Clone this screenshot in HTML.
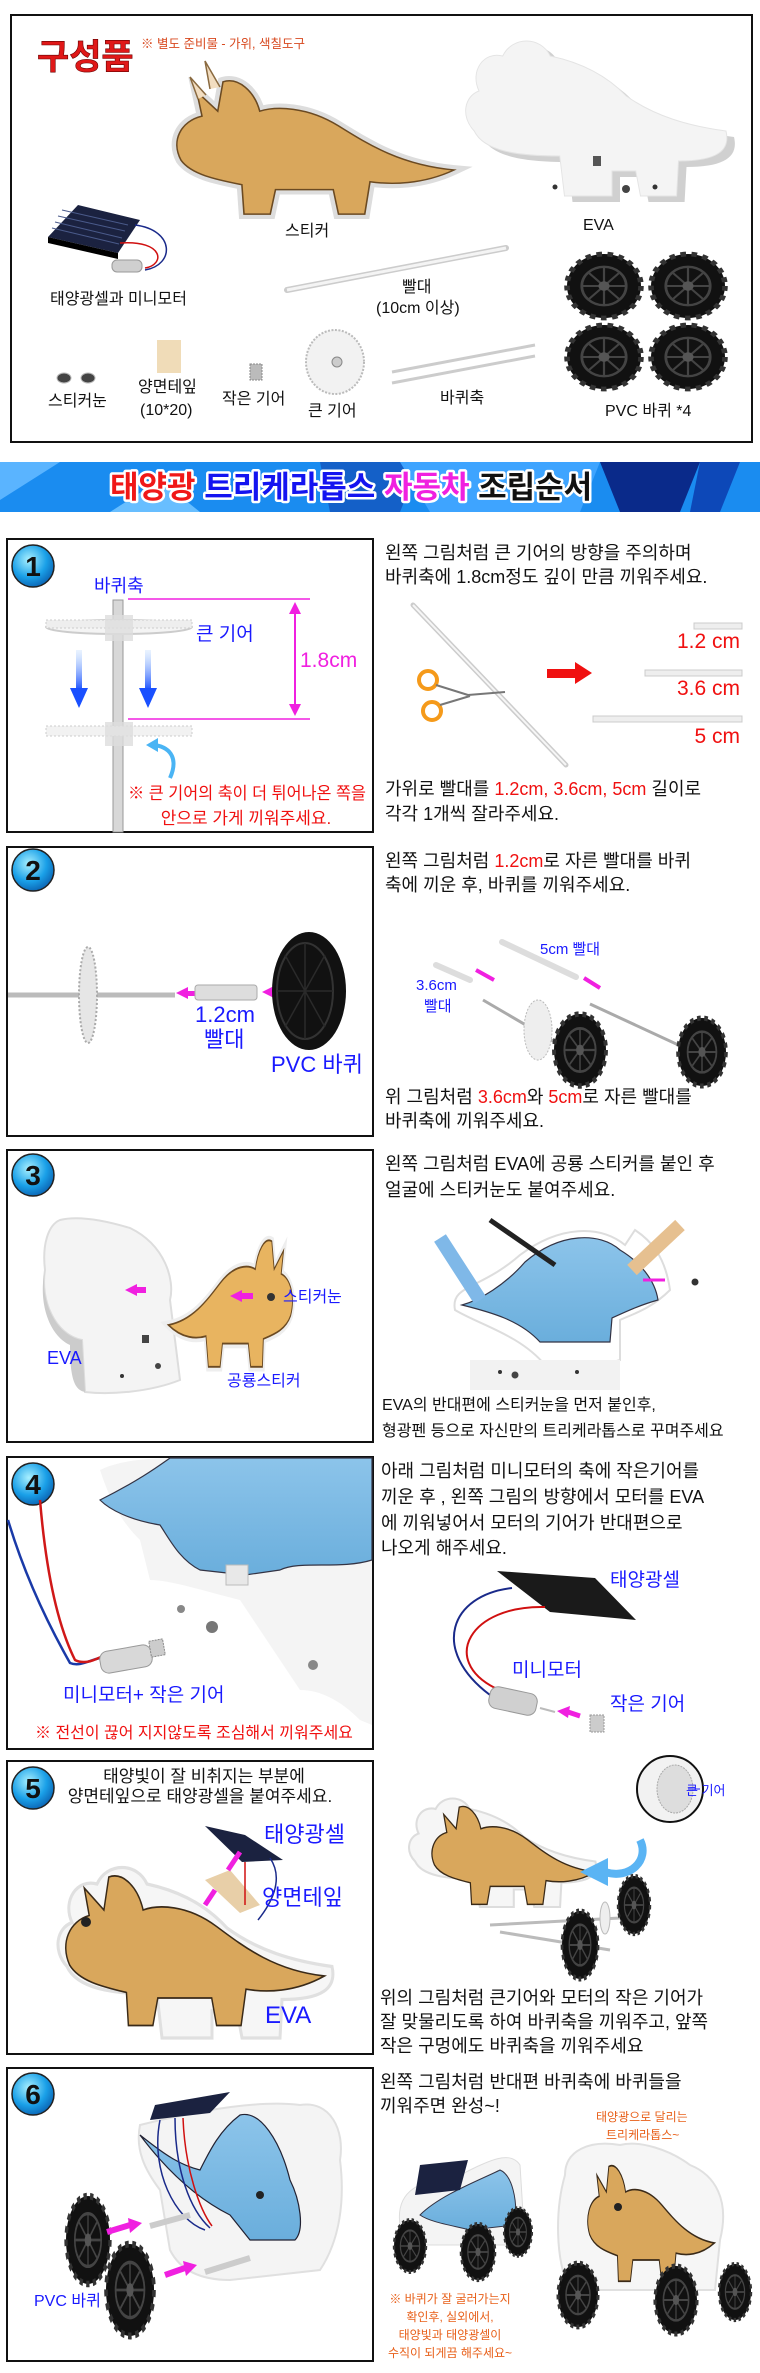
<!DOCTYPE html>
<html><head><meta charset="utf-8">
<style>
html,body{margin:0;padding:0;background:#fff;}
svg{display:block;}
text{font-family:"Liberation Sans","Noto Sans CJK KR",sans-serif;}
.t{font-size:18px;fill:#111;}
.s{font-size:16px;fill:#111;}
.b{fill:#1a1aff;}
.r{fill:#f01010;}
.m{fill:#f020e0;}
.o{fill:#e8601a;}
</style></head>
<body>
<svg width="760" height="2373" viewBox="0 0 760 2373" xmlns="http://www.w3.org/2000/svg">
<defs>
  <path id="dino" d="M20,90 C10,70 20,50 40,45 L35,20 L55,40 L60,10 C75,5 90,20 95,40 C110,35 140,35 170,55 C200,75 230,95 280,100 C250,115 220,115 200,112 L195,145 L170,145 L165,120 L110,120 L105,145 L80,145 L78,115 C55,110 30,105 20,90 Z"/>
  <path id="eva" d="M15,95 C0,80 5,60 20,55 C10,35 25,15 45,20 C55,0 85,0 95,20 C120,25 150,35 175,60 C205,80 240,90 280,95 C285,115 270,125 230,125 L228,160 L190,160 L185,135 L160,135 L160,160 L110,160 L105,120 C60,120 25,115 15,95 Z"/>
  <g id="wheel">
    <circle r="20" fill="#111"/>
    <circle r="20" fill="none" stroke="#333" stroke-width="3" stroke-dasharray="3 3"/>
    <circle r="12" fill="none" stroke="#444" stroke-width="1.5"/>
    <path d="M-12,0H12M0,-12V12M-8,-8L8,8M-8,8L8,-8" stroke="#444" stroke-width="1.2"/>
    <circle r="3" fill="#555"/>
  </g>
  <radialGradient id="num" cx="40%" cy="35%" r="70%">
    <stop offset="0" stop-color="#a8f0ff"/><stop offset="0.6" stop-color="#1aa0e8"/><stop offset="1" stop-color="#0a60b0"/>
  </radialGradient>
  <linearGradient id="barrow" x1="0" y1="0" x2="0" y2="1">
    <stop offset="0" stop-color="#b8d8ff" stop-opacity="0.3"/><stop offset="1" stop-color="#1a50ff"/>
  </linearGradient>
  <linearGradient id="dblue" x1="0" y1="0" x2="0" y2="1">
    <stop offset="0" stop-color="#8cc4ea"/><stop offset="1" stop-color="#6aaedc"/>
  </linearGradient>
</defs>

<!-- ===== Components box ===== -->
<rect x="11" y="15" width="741" height="427" fill="#fff" stroke="#111" stroke-width="2"/>
<text x="37" y="69" font-size="35" font-weight="bold" fill="#e01818" stroke="#600" stroke-width="0.6">구성품</text>
<text x="141" y="48" font-size="12.5" fill="#d84a20">※ 별도 준비물 - 가위, 색칠도구</text>

<use href="#dino" transform="translate(160,72) scale(1.05,0.98)" fill="#fff" stroke="#ddd" stroke-width="10"/>
<use href="#dino" transform="translate(160,72) scale(1.05,0.98)" fill="#d9a75c" stroke="#6b4a22" stroke-width="1.5"/>
<path d="M198,99 L190,77 L206,95 M210,89 L205,61 L220,87" stroke="#8a6a40" fill="#f2ddc0" stroke-width="1.5"/>
<text x="285" y="236" class="s">스티커</text>
<use href="#eva" transform="translate(468,42) scale(0.95,1.0)" fill="#d0d0d0"/>
<use href="#eva" transform="translate(460,36) scale(0.95,1.0)" fill="#f4f4f4" stroke="#e4e4e4"/>
<circle cx="555" cy="187" r="2.5" fill="#333"/><circle cx="626" cy="189" r="4" fill="#444"/><circle cx="655" cy="187" r="2.5" fill="#333"/>
<rect x="593" y="156" width="8" height="10" fill="#555"/>
<text x="583" y="230" class="s">EVA</text>
<polygon points="78,205 140,220 118,253 48,237" fill="#1b2240"/>
<polygon points="48,237 118,253 118,259 48,243" fill="#000"/>
<path d="M62,210 L128,225 M58,216 L125,231 M55,222 L122,238 M52,228 L119,244" stroke="#4a5a8a" stroke-width="1"/>
<path d="M135,225 C175,230 175,265 145,270" stroke="#1a2a8a" stroke-width="1.5" fill="none"/>
<path d="M120,243 C165,240 165,265 145,268" stroke="#d01010" stroke-width="1.5" fill="none"/>
<rect x="112" y="260" width="30" height="12" rx="5" fill="#cfcfcf" stroke="#999"/>
<text x="50" y="304" class="s">태양광셀과 미니모터</text>
<path d="M287,290 L506,248" stroke="#ccc" stroke-width="6" stroke-linecap="round"/>
<path d="M287,290 L506,248" stroke="#f4f4f4" stroke-width="3"/>
<text x="402" y="292" class="s">빨대</text>
<text x="376" y="313" class="s">(10cm 이상)</text>
<use href="#wheel" transform="translate(604,286) scale(1.85,1.6)"/>
<use href="#wheel" transform="translate(688,286) scale(1.85,1.6)"/>
<use href="#wheel" transform="translate(604,357) scale(1.85,1.6)"/>
<use href="#wheel" transform="translate(688,357) scale(1.85,1.6)"/>
<text x="605" y="416" class="s">PVC 바퀴 *4</text>
<ellipse cx="64" cy="378" rx="7" ry="5" fill="#444" stroke="#bbb"/><ellipse cx="88" cy="378" rx="7" ry="5" fill="#444" stroke="#bbb"/>
<text x="48" y="406" class="s">스티커눈</text>
<rect x="157" y="340" width="24" height="33" fill="#f0dcb8"/>
<text x="138" y="392" class="s">양면테잎</text>
<text x="140" y="415" class="s">(10*20)</text>
<rect x="250" y="364" width="12" height="16" fill="#bbb" stroke="#888" stroke-dasharray="2 1"/>
<text x="222" y="404" class="s">작은 기어</text>
<ellipse cx="335" cy="362" rx="29" ry="32" fill="#f2f2f2" stroke="#bbb" stroke-width="2" stroke-dasharray="2 1.5"/>
<circle cx="337" cy="362" r="5" fill="#ccc" stroke="#888"/>
<text x="308" y="416" class="s">큰 기어</text>
<path d="M392,372 L535,345 M392,383 L535,356" stroke="#ccc" stroke-width="3"/>
<text x="440" y="403" class="s">바퀴축</text>

<!-- ===== Banner ===== -->
<rect x="0" y="462" width="760" height="50" fill="#1a8cf0"/>
<polygon points="0,462 60,462 0,500" fill="#5ab4ff"/>
<polygon points="320,462 420,462 400,512 330,512" fill="#1460c8"/>
<polygon points="400,462 600,462 580,512 430,512" fill="#3ea4ff"/>
<polygon points="600,462 700,462 680,512 620,512" fill="#0a2a8a"/>
<polygon points="700,462 740,462 720,512 690,512" fill="#0d48b8"/>
<polygon points="110,512 160,480 200,512" fill="#68beff"/>
<g font-size="31" font-weight="bold" stroke="#fff" stroke-width="5" paint-order="stroke" stroke-linejoin="round">
<text x="110" y="498"><tspan fill="#f01818">태양광</tspan> <tspan fill="#1414f0">트리케라톱스</tspan> <tspan fill="#f020e0">자동차</tspan> <tspan fill="#111">조립순서</tspan></text>
</g>

<!-- ===== Step boxes ===== -->
<g fill="#fff" stroke="#111" stroke-width="2">
<rect x="7" y="539" width="366" height="293"/>
<rect x="7" y="847" width="366" height="289"/>
<rect x="7" y="1150" width="366" height="292"/>
<rect x="7" y="1457" width="366" height="292"/>
<rect x="7" y="1761" width="366" height="293"/>
<rect x="7" y="2068" width="366" height="293"/>
</g>
<g font-size="28" font-weight="bold" text-anchor="middle" fill="#111">
<circle cx="33" cy="566" r="21" fill="url(#num)" stroke="#222" stroke-width="1.5"/><text x="33" y="576">1</text>
<circle cx="33" cy="870" r="21" fill="url(#num)" stroke="#222" stroke-width="1.5"/><text x="33" y="880">2</text>
<circle cx="33" cy="1175" r="21" fill="url(#num)" stroke="#222" stroke-width="1.5"/><text x="33" y="1185">3</text>
<circle cx="33" cy="1484" r="21" fill="url(#num)" stroke="#222" stroke-width="1.5"/><text x="33" y="1494">4</text>
<circle cx="33" cy="1788" r="21" fill="url(#num)" stroke="#222" stroke-width="1.5"/><text x="33" y="1798">5</text>
<circle cx="33" cy="2094" r="21" fill="url(#num)" stroke="#222" stroke-width="1.5"/><text x="33" y="2104">6</text>
</g>

<!-- Step 1 -->
<text x="94" y="592" font-size="18" class="b">바퀴축</text>
<rect x="113" y="600" width="10" height="232" fill="#d8d8d8" stroke="#999"/>
<ellipse cx="119" cy="627" rx="73" ry="7" fill="#f4f4f4" stroke="#ccc" stroke-width="2"/>
<rect x="46" y="620" width="146" height="8" fill="#eee" stroke="#ccc" stroke-dasharray="2 2"/>
<rect x="105" y="615" width="28" height="26" fill="#ddd" opacity="0.8"/>
<text x="196" y="640" font-size="19" class="b">큰 기어</text>
<path d="M128,599 H310 M128,719 H310" stroke="#f020e0" stroke-width="1.5"/>
<path d="M295,605 V713" stroke="#f020e0" stroke-width="2"/>
<polygon points="295,602 289,614 301,614" fill="#f020e0"/><polygon points="295,716 289,704 301,704" fill="#f020e0"/>
<text x="300" y="667" font-size="21" class="m">1.8cm</text>
<rect x="76" y="650" width="6" height="40" fill="url(#barrow)"/><polygon points="70,688 88,688 79,708" fill="#1a50ff"/>
<rect x="145" y="650" width="6" height="40" fill="url(#barrow)"/><polygon points="139,688 157,688 148,708" fill="#1a50ff"/>
<rect x="46" y="726" width="146" height="10" fill="#f2f2f2" stroke="#ccc" stroke-dasharray="2 2"/>
<rect x="105" y="722" width="28" height="24" fill="#ddd" opacity="0.8"/>
<path d="M170,778 C178,760 172,748 155,745" stroke="#4ab4f4" stroke-width="4" fill="none"/>
<polygon points="146,745 158,738 158,752" fill="#4ab4f4"/>
<text x="128" y="799" font-size="17" class="r" textLength="238" lengthAdjust="spacingAndGlyphs">※ 큰 기어의 축이 더 튀어나온 쪽을</text>
<text x="246" y="824" font-size="17" class="r" text-anchor="middle">안으로 가게 끼워주세요.</text>

<text x="385" y="559" class="t">왼쪽 그림처럼 큰 기어의 방향을 주의하며</text>
<text x="385" y="583" class="t">바퀴축에 1.8cm정도 깊이 만큼 끼워주세요.</text>
<path d="M413,605 L566,765" stroke="#ccc" stroke-width="5" stroke-linecap="round"/>
<path d="M413,605 L566,765" stroke="#f6f6f6" stroke-width="2"/>
<circle cx="428" cy="680" r="9" fill="none" stroke="#f59a1a" stroke-width="4"/>
<circle cx="432" cy="711" r="9" fill="none" stroke="#f59a1a" stroke-width="4"/>
<path d="M436,685 L468,695 M440,705 L470,696 M468,695 L505,692" stroke="#777" stroke-width="2"/>
<rect x="547" y="669" width="30" height="9" fill="#f01010"/><polygon points="575,662 592,673 575,684" fill="#f01010"/>
<rect x="694" y="623" width="48" height="6" fill="#eee" stroke="#ccc"/>
<rect x="645" y="670" width="97" height="6" fill="#eee" stroke="#ccc"/>
<rect x="593" y="716" width="149" height="6" fill="#eee" stroke="#ccc"/>
<g font-size="21" class="r" text-anchor="end"><text x="740" y="648">1.2 cm</text><text x="740" y="695">3.6 cm</text><text x="740" y="743">5 cm</text></g>
<text x="385" y="795" class="t">가위로 빨대를 <tspan class="r">1.2cm, 3.6cm, 5cm</tspan> 길이로</text>
<text x="385" y="820" class="t">각각 1개씩 잘라주세요.</text>

<!-- Step 2 -->
<path d="M8,995 H175" stroke="#bbb" stroke-width="5"/>
<ellipse cx="88" cy="995" rx="9" ry="48" fill="#e6e6e6" stroke="#aaa" stroke-width="2" stroke-dasharray="2 2"/>
<polygon points="176,993 188,987 188,999" fill="#f020e0"/><rect x="187" y="991" width="8" height="5" fill="#f020e0"/>
<rect x="195" y="985" width="62" height="15" rx="3" fill="#ddd" stroke="#aaa"/>
<polygon points="262,992 274,986 274,998" fill="#f020e0"/><rect x="273" y="989" width="14" height="6" fill="#f020e0"/>
<ellipse cx="309" cy="991" rx="37" ry="59" fill="#111"/>
<ellipse cx="305" cy="991" rx="28" ry="48" fill="none" stroke="#333" stroke-width="2"/>
<path d="M305,943 V1039 M277,991 H333 M285,955 L325,1027 M285,1027 L325,955" stroke="#2a2a2a" stroke-width="1.5"/>
<text x="195" y="1022" font-size="22" class="b">1.2cm</text>
<text x="204" y="1047" font-size="22" class="b">빨대</text>
<text x="271" y="1072" font-size="22" class="b">PVC 바퀴</text>

<text x="385" y="867" class="t">왼쪽 그림처럼 <tspan class="r">1.2cm</tspan>로 자른 빨대를 바퀴</text>
<text x="385" y="891" class="t">축에 끼운 후, 바퀴를 끼워주세요.</text>
<text x="540" y="954" font-size="15" class="b">5cm 빨대</text>
<text x="416" y="990" font-size="15" class="b">3.6cm</text>
<text x="424" y="1011" font-size="15" class="b">빨대</text>
<path d="M436,965 L470,980 M502,942 L576,977" stroke="#ddd" stroke-width="6" stroke-linecap="round"/>
<path d="M483,1000 L560,1045 M590,1004 L700,1055" stroke="#aaa" stroke-width="3"/>
<path d="M476,970 L494,980 M584,978 L600,988" stroke="#f020e0" stroke-width="4"/>
<ellipse cx="538" cy="1030" rx="14" ry="30" fill="#eee" stroke="#bbb" stroke-dasharray="2 1.5"/>
<use href="#wheel" transform="translate(580,1050) scale(1.3,1.8)"/>
<use href="#wheel" transform="translate(702,1052) scale(1.2,1.7)"/>
<text x="385" y="1103" class="t">위 그림처럼 <tspan class="r">3.6cm</tspan>와 <tspan class="r">5cm</tspan>로 자른 빨대를</text>
<text x="385" y="1127" class="t">바퀴축에 끼워주세요.</text>

<!-- Step 3 -->
<path d="M60,1220 C80,1215 110,1222 130,1228 C165,1245 175,1280 170,1300 L180,1380 C150,1392 110,1395 85,1392 L82,1340 C55,1335 40,1300 45,1270 C42,1245 48,1225 60,1220 Z" fill="#f4f4f4" stroke="#ddd" stroke-width="2"/>
<path d="M45,1270 C40,1300 55,1335 82,1340 L85,1392 C75,1390 70,1380 70,1345 C48,1335 38,1300 45,1270 Z" fill="#ccc"/>
<rect x="142" y="1335" width="7" height="8" fill="#444"/>
<circle cx="122" cy="1376" r="2" fill="#333"/><circle cx="158" cy="1366" r="3" fill="#444"/>
<polygon points="125,1290 137,1284 137,1296" fill="#f020e0"/><rect x="136" y="1287" width="10" height="6" fill="#f020e0"/>
<use href="#dino" transform="translate(300,1232) scale(-0.47,0.93)" fill="#fff" stroke="#eee" stroke-width="10"/>
<use href="#dino" transform="translate(300,1232) scale(-0.47,0.93)" fill="#e8b460" stroke="#6b4a22" stroke-width="2"/>
<polygon points="230,1296 242,1290 242,1302" fill="#f020e0"/><rect x="241" y="1293" width="12" height="6" fill="#f020e0"/>
<circle cx="271" cy="1297" r="4" fill="#333"/>
<text x="283" y="1302" font-size="16" class="b">스티커눈</text>
<text x="47" y="1364" font-size="18" class="b">EVA</text>
<text x="227" y="1386" font-size="16" class="b">공룡스티커</text>

<text x="385" y="1170" class="t">왼쪽 그림처럼 EVA에 공룡 스티커를 붙인 후</text>
<text x="385" y="1196" class="t">얼굴에 스티커눈도 붙여주세요.</text>
<path d="M455,1310 C450,1285 480,1290 520,1255 C560,1225 600,1225 625,1245 L635,1230 C650,1240 665,1255 670,1290 C650,1310 630,1315 620,1320 L620,1360 C590,1370 560,1372 545,1365 C520,1335 480,1325 455,1310 Z" fill="#fff" stroke="#ddd" stroke-width="2"/>
<path d="M462,1305 C480,1300 505,1285 525,1262 C560,1232 600,1232 620,1250 C640,1262 655,1280 658,1300 C640,1305 625,1312 612,1318 L610,1342 L540,1342 C520,1320 490,1312 462,1305 Z" fill="url(#dblue)" stroke="#334" stroke-width="1.2"/>
<path d="M470,1360 H620 V1390 H470 Z" fill="#f2f2f2"/>
<circle cx="500" cy="1372" r="2" fill="#333"/><circle cx="515" cy="1375" r="3.5" fill="#444"/><circle cx="577" cy="1372" r="2" fill="#333"/>
<path d="M490,1220 L555,1265" stroke="#222" stroke-width="5"/>
<path d="M440,1238 L480,1300" stroke="#7fb8e8" stroke-width="14"/>
<path d="M632,1270 L680,1225" stroke="#e6c090" stroke-width="14"/>
<path d="M643,1280 H665" stroke="#f020e0" stroke-width="3"/>
<circle cx="695" cy="1282" r="3.5" fill="#333"/>
<text x="382" y="1410" class="s">EVA의 반대편에 스티커눈을 먼저 붙인후,</text>
<text x="382" y="1436" class="s">형광펜 등으로 자신만의 트리케라톱스로 꾸며주세요</text>

<!-- Step 4 -->
<path d="M100,1470 C120,1460 150,1458 180,1458 L372,1458 L372,1725 L360,1720 C340,1700 320,1690 300,1690 L240,1600 C200,1590 170,1580 150,1580 L140,1540 C120,1520 110,1500 100,1470 Z" fill="#f4f4f4"/>
<path d="M100,1500 C140,1480 160,1465 170,1458 L372,1458 L372,1560 C340,1570 300,1560 280,1570 L245,1575 L200,1570 C180,1560 170,1540 160,1525 C130,1520 110,1510 100,1500 Z" fill="url(#dblue)" stroke="#334" stroke-width="1.2"/>
<rect x="226" y="1565" width="22" height="20" fill="#e8e8e8" stroke="#bbb"/>
<circle cx="181" cy="1609" r="4" fill="#888"/><circle cx="212" cy="1627" r="6" fill="#777"/><circle cx="313" cy="1665" r="5" fill="#888"/>
<path d="M8,1520 C20,1560 40,1610 70,1663 C80,1667 90,1660 100,1658" stroke="#1a3aa8" stroke-width="2.5" fill="none"/>
<path d="M40,1500 C45,1560 55,1620 75,1660 C85,1665 95,1660 105,1655" stroke="#d01818" stroke-width="2.5" fill="none"/>
<rect x="100" y="1648" width="52" height="22" rx="8" fill="#d8d8d8" stroke="#999" transform="rotate(-10 126 1659)"/>
<rect x="150" y="1640" width="14" height="16" fill="#ccc" stroke="#888" stroke-dasharray="2 1" transform="rotate(-10 157 1648)"/>
<text x="63" y="1701" font-size="19" class="b">미니모터+ 작은 기어</text>
<text x="35" y="1738" font-size="16" class="r">※ 전선이 끊어 지지않도록 조심해서 끼워주세요</text>

<text x="381" y="1477" class="t">아래 그림처럼 미니모터의 축에 작은기어를</text>
<text x="381" y="1503" class="t">끼운 후 , 왼쪽 그림의 방향에서 모터를 EVA</text>
<text x="381" y="1529" class="t">에 끼워넣어서 모터의 기어가 반대편으로</text>
<text x="381" y="1554" class="t">나오게 해주세요.</text>
<polygon points="497,1571 595,1578 636,1620 550,1612" fill="#1a1a1a"/>
<path d="M512,1588 C450,1595 430,1650 490,1695" stroke="#1a2a8a" stroke-width="2" fill="none"/>
<path d="M545,1607 C470,1605 440,1660 495,1688" stroke="#d01010" stroke-width="2" fill="none"/>
<rect x="489" y="1690" width="48" height="22" rx="8" fill="#d0d0d0" stroke="#999" transform="rotate(12 513 1701)"/>
<path d="M540,1708 L555,1712" stroke="#bbb" stroke-width="2"/>
<polygon points="557,1711 570,1706 568,1718" fill="#f020e0"/><path d="M568,1712 L580,1716" stroke="#f020e0" stroke-width="5"/>
<rect x="590" y="1715" width="14" height="17" fill="#ccc" stroke="#999" stroke-dasharray="2 1"/>
<text x="610" y="1586" font-size="19" class="b">태양광셀</text>
<text x="512" y="1676" font-size="19" class="b">미니모터</text>
<text x="610" y="1710" font-size="19" class="b">작은 기어</text>

<!-- Step 5 -->
<text x="204" y="1782" font-size="17" fill="#111" text-anchor="middle">태양빛이 잘 비취지는 부분에</text>
<text x="200" y="1802" font-size="17" fill="#111" text-anchor="middle">양면테잎으로 태양광셀을 붙여주세요.</text>
<use href="#eva" transform="translate(52,1862) scale(1.0,1.1)" fill="#f6f6f6" stroke="#e0e0e0" stroke-width="3"/>
<use href="#dino" transform="translate(50,1866) scale(0.98,1.1)" fill="#d9a75c" stroke="#3a2a18" stroke-width="1.5"/>
<circle cx="86" cy="1922" r="5" fill="#222"/>
<polygon points="205,1826 245,1835 283,1860 242,1862" fill="#1b2240"/>
<polygon points="205,1880 230,1870 260,1905 240,1913" fill="#e8cfa8"/>
<path d="M270,1858 C285,1880 270,1905 258,1920" stroke="#1a2a8a" stroke-width="1.5" fill="none"/>
<path d="M245,1862 V1905" stroke="#d01010" stroke-width="1.5"/>
<path d="M240,1852 L228,1870 M215,1890 L205,1905" stroke="#f020e0" stroke-width="5"/>
<text x="264" y="1842" font-size="22" class="b">태양광셀</text>
<text x="262" y="1905" font-size="22" class="b">양면테잎</text>
<text x="265" y="2023" font-size="24" class="b">EVA</text>

<use href="#eva" transform="translate(405,1795) scale(0.68,0.7)" fill="#f6f6f6" stroke="#ddd" stroke-width="3"/>
<use href="#dino" transform="translate(422,1800) scale(0.62,0.72)" fill="#d9a75c" stroke="#3a2a18" stroke-width="2"/>
<circle cx="670" cy="1789" r="33" fill="#f2f2f2" stroke="#111" stroke-width="2"/>
<ellipse cx="675" cy="1789" rx="18" ry="24" fill="#ddd" stroke="#aaa" stroke-dasharray="2 1"/>
<path d="M688,1789 H700" stroke="#1a1aff"/>
<text x="686" y="1795" font-size="13" class="b">큰 기어</text>
<path d="M640,1840 C650,1860 630,1880 605,1872" stroke="#5ab4f4" stroke-width="8" fill="none"/>
<polygon points="580,1872 608,1858 608,1886" fill="#5ab4f4"/>
<path d="M490,1925 L620,1918 M500,1932 L610,1950" stroke="#bbb" stroke-width="3"/>
<use href="#wheel" transform="translate(580,1945) scale(0.9,1.7)"/>
<use href="#wheel" transform="translate(634,1905) scale(0.8,1.45)"/>
<ellipse cx="605" cy="1918" rx="5" ry="16" fill="#eee" stroke="#bbb"/>
<text x="380" y="2004" class="t">위의 그림처럼 큰기어와 모터의 작은 기어가</text>
<text x="380" y="2028" class="t">잘 맞물리도록 하여 바퀴축을 끼워주고, 앞쪽</text>
<text x="380" y="2052" class="t">작은 구멍에도 바퀴축을 끼워주세요</text>

<!-- Step 6 -->
<path d="M140,2125 C200,2110 260,2100 300,2105 C330,2100 345,2130 340,2160 C345,2200 340,2240 320,2270 L230,2280 C200,2280 180,2270 170,2250 L160,2190 C145,2170 135,2150 140,2125 Z" fill="#f4f4f4" stroke="#e0e0e0" stroke-width="2"/>
<path d="M140,2135 C165,2155 180,2165 200,2170 C210,2150 220,2130 240,2115 C260,2110 280,2140 290,2180 C300,2200 305,2230 295,2240 L250,2240 L230,2215 C200,2200 170,2175 140,2135 Z" fill="url(#dblue)" stroke="#223" stroke-width="1.2"/>
<polygon points="155,2105 230,2092 210,2113 150,2120" fill="#1b2240"/>
<path d="M160,2120 C150,2170 175,2220 205,2230 M175,2118 C175,2170 190,2210 210,2228" stroke="#1a2a8a" stroke-width="1.5" fill="none"/>
<path d="M183,2118 C185,2170 200,2210 212,2226" stroke="#d01010" stroke-width="1.5" fill="none"/>
<circle cx="260" cy="2195" r="4" fill="#222"/>
<path d="M150,2226 L190,2215 M205,2272 L250,2258" stroke="#ccc" stroke-width="6"/>
<use href="#wheel" transform="translate(88,2240) scale(1.1,2.2)"/>
<use href="#wheel" transform="translate(130,2290) scale(1.2,2.3)"/>
<path d="M107,2232 L130,2225 M165,2275 L185,2268" stroke="#f020e0" stroke-width="6"/>
<polygon points="128,2218 142,2223 130,2233" fill="#f020e0"/><polygon points="183,2261 197,2265 186,2276" fill="#f020e0"/>
<text x="34" y="2306" font-size="16" class="b">PVC 바퀴</text>

<text x="380" y="2088" class="t">왼쪽 그림처럼 반대편 바퀴축에 바퀴들을</text>
<text x="380" y="2112" class="t">끼워주면 완성~!</text>
<text x="596" y="2121" font-size="12" class="o">태양광으로 달리는</text>
<text x="606" y="2139" font-size="12" class="o">트리케라톱스~</text>
<path d="M400,2225 C395,2190 420,2180 460,2175 C490,2160 510,2150 520,2165 L525,2245 L400,2245 Z" fill="#f4f4f4" stroke="#ddd"/>
<path d="M420,2215 C440,2195 480,2180 500,2170 C512,2175 518,2200 515,2225 L470,2230 C450,2225 430,2222 420,2215 Z" fill="url(#dblue)" stroke="#334"/>
<polygon points="420,2165 468,2160 460,2190 415,2195" fill="#1b2240"/>
<use href="#wheel" transform="translate(410,2246) scale(0.8,1.3)"/>
<use href="#wheel" transform="translate(478,2252) scale(0.85,1.4)"/>
<use href="#wheel" transform="translate(518,2232) scale(0.7,1.2)"/>
<path d="M565,2175 C565,2150 590,2140 620,2145 C640,2140 670,2150 690,2165 C715,2175 730,2200 720,2240 L715,2290 L570,2290 C555,2260 555,2210 565,2175 Z" fill="#f6f6f6" stroke="#e0e0e0" stroke-width="2"/>
<use href="#dino" transform="translate(580,2158) scale(0.48,0.85)" fill="#d9a75c" stroke="#3a2a18" stroke-width="2"/>
<circle cx="618" cy="2207" r="4" fill="#222"/>
<use href="#wheel" transform="translate(578,2295) scale(1.0,1.6)"/>
<use href="#wheel" transform="translate(676,2300) scale(1.05,1.7)"/>
<use href="#wheel" transform="translate(735,2292) scale(0.8,1.4)"/>
<g font-size="12" class="o" text-anchor="middle">
<text x="450" y="2303">※ 바퀴가 잘 굴러가는지</text>
<text x="450" y="2321">확인후, 실외에서,</text>
<text x="450" y="2339">태양빛과 태양광셀이</text>
<text x="450" y="2357">수직이 되게끔 해주세요~</text>
</g>
</svg>
</body></html>
